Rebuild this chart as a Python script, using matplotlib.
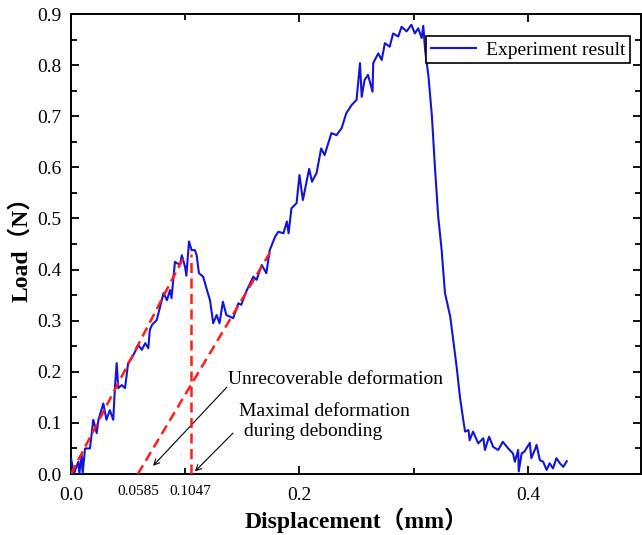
import matplotlib
matplotlib.use('Agg')
import matplotlib.pyplot as plt
from matplotlib.ticker import MultipleLocator, FixedLocator

plt.rcParams['font.family'] = ['Liberation Serif', 'Noto Sans CJK SC']

# load-displacement record of the debonding test
disp = [0.0000, 0.0026, 0.0064, 0.0073, 0.0094, 0.0102, 0.0123, 0.0166, 0.0195, 0.0225,
        0.0240, 0.0283, 0.0310, 0.0340, 0.0370, 0.0385, 0.0400, 0.0414, 0.0444, 0.0473,
        0.0500, 0.0530, 0.0560, 0.0590, 0.0620, 0.0650, 0.0677, 0.0690, 0.0710, 0.0750,
        0.0780, 0.0810, 0.0840, 0.0867, 0.0880, 0.0910, 0.0954, 0.0970, 0.0998, 0.1010,
        0.1033, 0.1056, 0.1085, 0.1100, 0.1120, 0.1157, 0.1190, 0.1217, 0.1245, 0.1275,
        0.1300, 0.1330, 0.1360, 0.1420, 0.1465, 0.1490, 0.1540, 0.1596, 0.1625, 0.1670,
        0.1710, 0.1740, 0.1786, 0.1815, 0.1860, 0.1890, 0.1905, 0.1930, 0.1975, 0.2000,
        0.2030, 0.2085, 0.2110, 0.2150, 0.2190, 0.2220, 0.2280, 0.2325, 0.2370, 0.2410,
        0.2457, 0.2500, 0.2530, 0.2545, 0.2570, 0.2600, 0.2640, 0.2646, 0.2690, 0.2720,
        0.2748, 0.2790, 0.2820, 0.2865, 0.2894, 0.2938, 0.2980, 0.3010, 0.3040, 0.3070,
        0.3084, 0.3100, 0.3130, 0.3160, 0.3186, 0.3215, 0.3245, 0.3274, 0.3320, 0.3346,
        0.3376, 0.3405, 0.3434, 0.3450, 0.3480, 0.3490, 0.3520, 0.3565, 0.3610, 0.3624,
        0.3660, 0.3696, 0.3740, 0.3780, 0.3828, 0.3870, 0.3886, 0.3915, 0.3920, 0.3945,
        0.3970, 0.4017, 0.4030, 0.4060, 0.4076, 0.4105, 0.4134, 0.4164, 0.4190, 0.4220,
        0.4250, 0.4280, 0.4310, 0.4340]
load = [0.031, 0.001, 0.024, 0.001, 0.037, 0.001, 0.050, 0.050, 0.106, 0.080,
        0.106, 0.138, 0.106, 0.125, 0.106, 0.171, 0.217, 0.168, 0.174, 0.168,
        0.217, 0.226, 0.239, 0.252, 0.243, 0.256, 0.246, 0.282, 0.292, 0.301,
        0.327, 0.354, 0.340, 0.360, 0.344, 0.415, 0.409, 0.428, 0.406, 0.388,
        0.455, 0.438, 0.438, 0.428, 0.393, 0.386, 0.360, 0.340, 0.295, 0.311,
        0.295, 0.337, 0.311, 0.305, 0.334, 0.331, 0.360, 0.386, 0.380, 0.409,
        0.393, 0.438, 0.464, 0.474, 0.471, 0.494, 0.471, 0.520, 0.530, 0.585,
        0.536, 0.597, 0.572, 0.589, 0.637, 0.624, 0.667, 0.663, 0.677, 0.706,
        0.722, 0.732, 0.804, 0.738, 0.771, 0.781, 0.748, 0.804, 0.823, 0.810,
        0.843, 0.836, 0.862, 0.856, 0.875, 0.866, 0.879, 0.862, 0.872, 0.853,
        0.877, 0.830, 0.777, 0.699, 0.601, 0.503, 0.438, 0.354, 0.308, 0.262,
        0.210, 0.151, 0.106, 0.083, 0.086, 0.066, 0.083, 0.060, 0.070, 0.047,
        0.073, 0.053, 0.047, 0.063, 0.050, 0.040, 0.024, 0.047, 0.005, 0.040,
        0.044, 0.061, 0.031, 0.047, 0.057, 0.027, 0.024, 0.008, 0.021, 0.011,
        0.031, 0.021, 0.014, 0.025]

# stiffness lines used to split the deformation
load_x = [0.0, 0.1]
load_y = [0.0, 0.43]
unrec = 0.0585
max_def = 0.1047
unload_x = [unrec, 0.176]
unload_y = [0.0, 0.44]
peak_y = 0.43

fig = plt.figure(figsize=(6.42, 5.35), dpi=100)
ax = fig.add_axes([0.1106, 0.114, 0.8878, 0.8598])

ax.plot(disp, load, color='#1414d8', lw=1.5, label='Experiment result', zorder=3)

red = '#ff1c1c'
ax.plot(load_x, load_y, color=red, lw=1.8, dashes=(4, 2.2), zorder=4)
ax.plot([max_def, max_def], [0, peak_y], color=red, lw=1.8, dashes=(4, 2.2), zorder=4)
ax.plot(unload_x, unload_y, color=red, lw=1.8, dashes=(4, 2.2), zorder=4)

ax.set_xlim(0, 0.499)
ax.set_ylim(0, 0.9)
ax.xaxis.set_major_locator(FixedLocator([0.0, 0.2, 0.4]))
ax.xaxis.set_minor_locator(FixedLocator([0.1, 0.3]))
ax.yaxis.set_major_locator(MultipleLocator(0.1))
ax.yaxis.set_minor_locator(MultipleLocator(0.05))
ax.xaxis.set_major_formatter(plt.FuncFormatter(lambda v, p: f'{v:.1f}'))
ax.yaxis.set_major_formatter(plt.FuncFormatter(lambda v, p: f'{v:.1f}'))

ax.tick_params(which='both', direction='in', top=True, right=True, width=1.3,
               labelsize=14, colors='black')
ax.tick_params(which='major', length=6)
ax.tick_params(which='minor', length=4)
ax.tick_params(axis='x', pad=9)
ax.tick_params(axis='y', pad=7)
for s in ax.spines.values():
    s.set_linewidth(1.4)

# deformation values marked under the axis
for v in (unrec, max_def):
    ax.text(v, -0.0375, f'{v:.4f}', transform=ax.get_xaxis_transform(),
            ha='center', va='center', fontsize=11)

ax.set_xlabel('Displacement（mm）', fontsize=17, fontweight='bold', labelpad=3)
ax.set_ylabel('Load（N）', fontsize=17, fontweight='bold', labelpad=3)

arrow = dict(arrowstyle='->', color='black', lw=0.8, shrinkA=0, shrinkB=0,
             mutation_scale=10)
ax.text(0.1375, 0.184, 'Unrecoverable deformation', fontsize=14, ha='left', va='center')
ax.annotate('', xy=(0.0718, 0.016), xytext=(0.1365, 0.170), arrowprops=arrow)
ax.text(0.1475, 0.103, 'Maximal deformation\n during debonding', fontsize=14,
        ha='left', va='center', linespacing=1.2)
ax.annotate('', xy=(0.1085, 0.005), xytext=(0.1418, 0.08), arrowprops=arrow)

leg = ax.legend(loc='upper right', bbox_to_anchor=(0.981, 0.952), borderaxespad=0,
                fontsize=14, fancybox=False, edgecolor='black', framealpha=1,
                handlelength=2.3, handletextpad=0.5, borderpad=0.25)
leg.get_frame().set_linewidth(1.2)

fig.savefig('out.png', dpi=100)
